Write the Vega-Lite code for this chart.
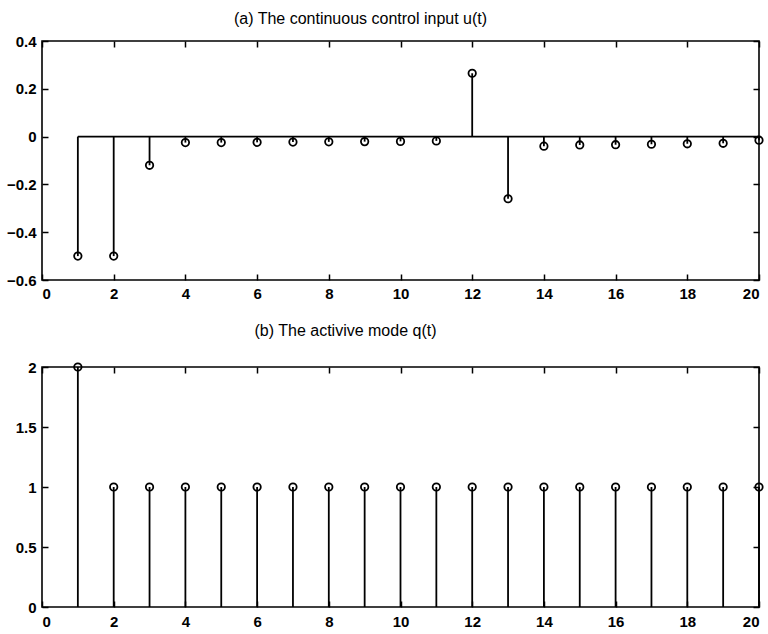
{
  "$schema": "https://vega.github.io/schema/vega-lite/v6.json",
  "padding": {"left": 5, "top": 10, "right": 4, "bottom": 2},
  "background": "white",
  "bounds": "flush",
  "spacing": 87,
  "config": {
    "view": {"stroke": "black", "strokeWidth": 1.6},
    "axis": {
      "grid": false,
      "domain": false,
      "tickColor": "black",
      "tickSize": 6,
      "offset": -6,
      "tickWidth": 1.5,
      "labelFont": "Liberation Sans",
      "labelFontSize": 15,
      "labelFontWeight": "bold",
      "labelColor": "black",
      "labelPadding": 6,
      "title": null
    },
    "title": {"font": "Liberation Sans", "fontSize": 16, "fontWeight": "normal", "color": "black"}
  },
  "vconcat": [
    {
      "width": 717,
      "height": 239,
      "title": {"text": "(a) The continuous control input u(t)", "offset": 7, "dx": -40},
      "data": {"values": [
        {"t": 1, "u": -0.5}, {"t": 2, "u": -0.5}, {"t": 3, "u": -0.12}, {"t": 4, "u": -0.025},
        {"t": 5, "u": -0.025}, {"t": 6, "u": -0.024}, {"t": 7, "u": -0.023}, {"t": 8, "u": -0.022},
        {"t": 9, "u": -0.021}, {"t": 10, "u": -0.02}, {"t": 11, "u": -0.018}, {"t": 12, "u": 0.265},
        {"t": 13, "u": -0.26}, {"t": 14, "u": -0.04}, {"t": 15, "u": -0.035}, {"t": 16, "u": -0.034},
        {"t": 17, "u": -0.032}, {"t": 18, "u": -0.03}, {"t": 19, "u": -0.028}, {"t": 20, "u": -0.015}
      ]},
      "resolve": {"axis": {"x": "independent", "y": "independent"}},
      "layer": [
        {
          "mark": {"type": "rule", "color": "black", "strokeWidth": 1.8},
          "encoding": {
            "x": {"field": "t", "type": "quantitative", "scale": {"domain": [0, 20], "nice": false}, "axis": {"orient": "bottom", "values": [0,2,4,6,8,10,12,14,16,18,20]}},
            "y": {"field": "u", "type": "quantitative", "scale": {"domain": [-0.6, 0.4], "nice": false, "zero": false}, "axis": {"orient": "left", "values": [-0.6,-0.4,-0.2,0,0.2,0.4], "format": ".1~f"}},
            "y2": {"datum": 0}
          }
        },
        {
          "data": {"values": [{"a": 1}]},
          "mark": {"type": "rule", "color": "black", "strokeWidth": 1.8},
          "encoding": {
            "x": {"datum": 1, "type": "quantitative", "axis": null},
            "x2": {"datum": 20},
            "y": {"datum": 0, "type": "quantitative", "axis": null}
          }
        },
        {
          "mark": {"type": "point", "shape": "circle", "filled": false, "color": "black", "size": 55, "strokeWidth": 1.8, "opacity": 1},
          "encoding": {
            "x": {"field": "t", "type": "quantitative", "axis": null},
            "y": {"field": "u", "type": "quantitative", "axis": null}
          }
        },
        {
          "mark": {"type": "point", "opacity": 0},
          "encoding": {
            "x": {"field": "t", "type": "quantitative", "axis": {"orient": "top", "labels": false, "values": [0,2,4,6,8,10,12,14,16,18,20]}},
            "y": {"field": "u", "type": "quantitative", "axis": {"orient": "right", "labels": false, "values": [-0.6,-0.4,-0.2,0,0.2,0.4]}}
          }
        }
      ]
    },
    {
      "width": 717,
      "height": 240,
      "title": {"text": "(b) The activive mode q(t)", "offset": 21, "dx": -55},
      "data": {"values": [
        {"t": 1, "q": 2}, {"t": 2, "q": 1}, {"t": 3, "q": 1}, {"t": 4, "q": 1}, {"t": 5, "q": 1},
        {"t": 6, "q": 1}, {"t": 7, "q": 1}, {"t": 8, "q": 1}, {"t": 9, "q": 1}, {"t": 10, "q": 1},
        {"t": 11, "q": 1}, {"t": 12, "q": 1}, {"t": 13, "q": 1}, {"t": 14, "q": 1}, {"t": 15, "q": 1},
        {"t": 16, "q": 1}, {"t": 17, "q": 1}, {"t": 18, "q": 1}, {"t": 19, "q": 1}, {"t": 20, "q": 1}
      ]},
      "resolve": {"axis": {"x": "independent", "y": "independent"}},
      "layer": [
        {
          "mark": {"type": "rule", "color": "black", "strokeWidth": 1.8},
          "encoding": {
            "x": {"field": "t", "type": "quantitative", "scale": {"domain": [0, 20], "nice": false}, "axis": {"orient": "bottom", "values": [0,2,4,6,8,10,12,14,16,18,20], "labelPadding": 7}},
            "y": {"field": "q", "type": "quantitative", "scale": {"domain": [0, 2], "nice": false}, "axis": {"orient": "left", "values": [0,0.5,1,1.5,2], "format": ".1~f"}},
            "y2": {"datum": 0}
          }
        },
        {
          "mark": {"type": "point", "shape": "circle", "filled": false, "color": "black", "size": 55, "strokeWidth": 1.8, "opacity": 1},
          "encoding": {
            "x": {"field": "t", "type": "quantitative", "axis": null},
            "y": {"field": "q", "type": "quantitative", "axis": null}
          }
        },
        {
          "mark": {"type": "point", "opacity": 0},
          "encoding": {
            "x": {"field": "t", "type": "quantitative", "axis": {"orient": "top", "labels": false, "values": [0,2,4,6,8,10,12,14,16,18,20]}},
            "y": {"field": "q", "type": "quantitative", "axis": {"orient": "right", "labels": false, "values": [0,0.5,1,1.5,2]}}
          }
        }
      ]
    }
  ]
}
